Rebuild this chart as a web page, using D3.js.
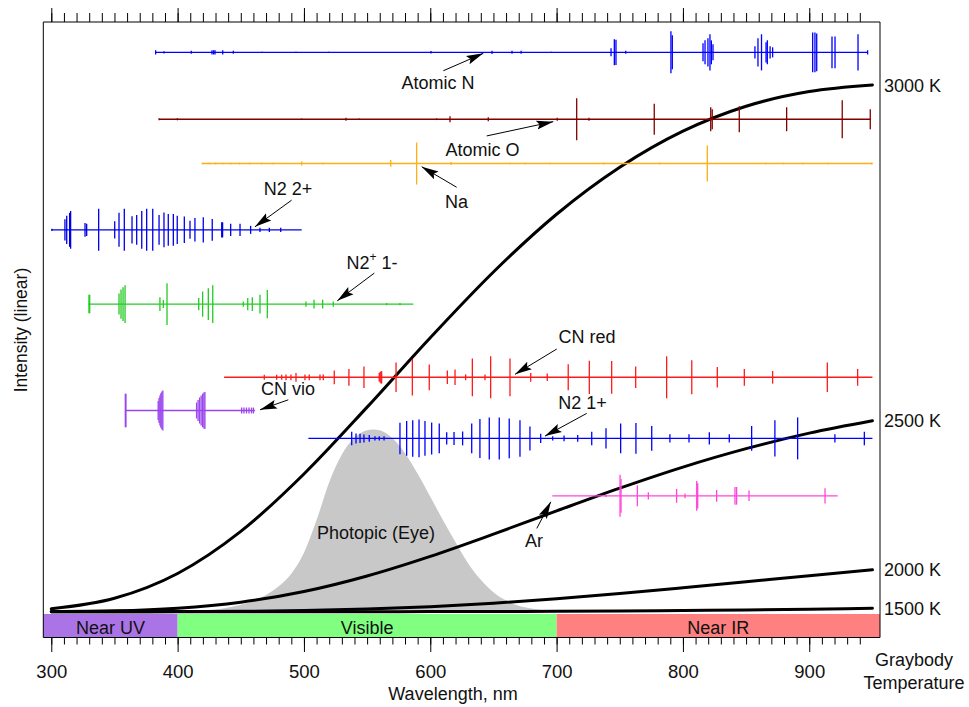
<!DOCTYPE html>
<html><head><meta charset="utf-8">
<script src="https://cdn.jsdelivr.net/npm/d3@7"></script>
<style>
html,body{margin:0;padding:0;background:#fff;}
svg{display:block;font-family:"Liberation Sans",Arial,sans-serif;}
</style></head><body>
<svg id="chart" width="969" height="707"></svg>
<script>
// ---------------- DATA ----------------
// Graybody curves (relative intensity, 3000 K at 950 nm = 100)
const gbWavelengths = [300,350,400,450,500,550,600,650,700,750,800,850,900,950];
const gb3000 = [0.56,2.55,7.26,15.25,26.15,38.84,52.02,64.5,75.46,84.38,91.23,95.97,98.75,100];
const gb2500 = [0.02,0.16,0.66,1.81,3.84,6.79,10.51,14.73,19.14,23.46,27.46,30.96,33.91,36.26];
const gb2000 = [0.0002,0.003,0.018,0.074,0.216,0.496,0.955,1.609,2.451,3.444,4.543,5.694,6.847,7.957];
const gb1500 = [0,0,0.00005,0.0004,0.0018,0.0063,0.0176,0.0402,0.0797,0.1408,0.2268,0.3389,0.4765,0.637];
const gbLabels = ["3000 K","2500 K","2000 K","1500 K"];

// Photopic (eye) response, same intensity units
const photopicWl = [380,390,400,410,420,430,440,450,460,470,480,490,500,510,520,530,540,550,555,560,570,580,590,600,610,620,630,640,650,660,670,680,690,700,710,720,730];
const photopicVal = [0.001,0.004,0.014,0.042,0.138,0.40,0.80,1.31,2.08,3.15,4.81,7.20,11.18,17.40,24.57,29.83,33.01,34.43,34.60,34.43,32.94,30.10,26.19,21.83,17.40,13.18,9.17,6.06,3.70,2.11,1.11,0.59,0.28,0.14,0.07,0.036,0.018];

// Spectral bands
const bandNames = ["Near UV","Visible","Near IR"];
const bandFrom = [293.67,400,700];
const bandTo = [400,700,956];

// Emission spectra: [wavelength nm, relative line intensity %]
const atomicN = [[382.6,10],[389.2,5],[410.8,7],[427.2,10],[428.5,10],[429.6,10],[435.7,10],[444.1,7],[466.8,3],[493.7,3],[519.8,3],[600.6,6],[648.9,8],[664.7,7],[671.9,7],[695.6,3],[743.1,19],[745.7,62],[747.0,60],[754.7,7],[790.5,100],[791.6,81],[815.9,43],[817.5,57],[819.8,67],[821.4,86],[822.5,57],[823.8,38],[857.0,29],[859.4,67],[862.2,86],[865.8,48],[866.8,57],[869.0,29],[871.0,24],[902.7,95],[904.5,95],[905.9,90],[918.0,76],[920.4,76],[938.6,86],[946.2,10]];
const atomicO = [[385.3,5],[399.8,5],[498.2,4],[533.3,7],[543.8,4],[605.0,4],[615.6,14],[645.9,10],[700.5,7],[715.9,100],[725.6,7],[777.3,74],[822.0,57],[823.2,48],[844.6,62],[882.1,57],[926.1,90],[948.3,48]];
const sodium = [[420,4],[425,4],[430,4],[436,4],[442,4],[449,4],[457,4],[466.5,4],[475.5,4],[498.2,10],[515.3,4],[568.7,16],[589.2,100],[616.4,7],[663.2,4],[675.1,4],[694.8,4],[737.2,4],[781.5,4],[819.3,86],[865.5,4],[879.4,4],[894.8,4],[915.0,4],[949.5,5]];
const n2Second = [[300.5,5],[310.8,51],[312.2,67],[314.5,81],[315.3,90],[326.7,33],[328.0,29],[337.5,100],[350.2,41],[353.6,81],[357.8,100],[363.9,65],[367.6,71],[371.6,90],[375.5,100],[380.3,100],[385.3,71],[389.2,83],[392.6,76],[396.6,76],[399.7,67],[405.3,63],[409.8,43],[413.7,56],[420.3,60],[427.4,52],[434.9,36],[435.6,36],[442.0,29],[449.4,29],[457.8,19],[465.2,10],[472.6,10],[481.6,10]];
const n2PlusFirstNeg = [[329.8,44],[330.4,44],[353.6,50],[355.2,70],[356.8,80],[358.4,90],[386.0,33],[388.7,19],[391.6,99],[416.7,29],[419.8,60],[424.3,76],[427.8,90],[452.0,12],[455.5,29],[459.1,33],[465.2,45],[471.0,67],[501.6,12],[508.0,21],[514.8,21],[523.2,12],[565.5,5],[576.0,5]];
const cnRed = [[468.6,12],[478.4,12],[482.4,12],[485.8,14],[489.7,14],[493.7,21],[500.8,14],[504.2,14],[512.7,14],[515.3,14],[524.0,33],[535.6,40],[547.5,51],[559.6,20],[560.3,25],[561.0,29],[561.5,29],[572.9,70],[585.8,87],[599.2,61],[613.5,32],[619.6,37],[628.0,14],[633.3,90],[643.3,14],[647.8,100],[663.1,90],[679.5,21],[692.6,18],[709.2,62],[725.9,79],[743.6,78],[762.6,51],[787.1,100],[807.0,81],[827.2,49],[848.6,40],[871.0,30],[914.3,70],[938.3,40]];
const cnViolet = [[358.6,80],[359.1,80],[384.6,45],[385.3,60],[386.0,72],[386.7,82],[387.5,90],[388.3,95],[415.0,38],[416.2,50],[417.4,62],[418.6,72],[419.8,80],[420.8,86],[421.6,88],[450.7,14],[452.5,14],[454.5,14],[456.5,14],[458.5,14],[460.0,14]];
const n2FirstPos = [[537.8,32],[541.2,24],[544.4,22],[547.5,19],[551.7,16],[556.2,10],[559.6,10],[563.4,10],[576.0,75],[581.3,83],[586.1,87],[591.1,90],[595.8,83],[601.1,76],[607.1,71],[613.0,29],[618.8,31],[625.6,33],[632.8,71],[639.3,93],[646.7,100],[654.6,100],[662.5,95],[671.0,87],[678.9,57],[687.4,22],[696.9,10],[705.9,14],[716.7,16],[727.8,32],[739.1,48],[750.7,71],[762.8,73],[775.3,59],[789.7,20],[804.8,20],[820.9,29],[836.7,20],[854.4,59],[872.8,86],[890.8,100],[920.3,20],[943.6,32]];
const argon = [[739.1,5],[750.2,100],[751.0,80],[763.9,50],[772.6,17],[795.0,33],[801.6,11],[810.9,71],[811.7,60],[826.7,28],[841.2,42],[842.5,42],[852.3,25],[912.5,36]];

const spectrumLines = [atomicN, atomicO, sodium, n2Second, n2PlusFirstNeg, cnRed, cnViolet, n2FirstPos, argon];
const spectrumOffsets = [106.2, 93.5, 85.1, 72.5, 58.4, 44.5, 38.2, 32.9, 22.0];
const spectrumStart = [382.6, 385.3, 419, 300, 329.3, 436.8, 359.1, 503.5, 696.6];
const spectrumEnd = [946.2, 948.3, 950, 498.2, 586.6, 950, 461.2, 950, 922.5];

// Axis ticks
const majorTicks = [300,400,500,600,700,800,900];
const minorTicks = d3.range(300, 941, 10);

// ---------------- STYLES / LAYOUT ----------------
const spectrumColors = ["#0000ff","#800000","#ffae14","#0000e6","#22cc22","#ff1a1a","#9a45ee","#0000ff","#ff44dd"];
const bandColors = ["#ab74e6","#80ff80","#ff8080"];
const FS = 18;

const svg = d3.select("#chart");
const plotL = 43.3, plotR = 880, plotT = 22, axisY = 637.5, bandTop = 614, bandBot = 637;

const x = d3.scaleLinear().domain([293.67, 956]).range([plotL, plotR]);
const y = d3.scaleLinear().domain([0, 100]).range([611.7, 85]);
const amp = d3.scaleLinear().domain([0, 100]).range([0, 21]);

// arrow marker
const defs = svg.append("defs");
defs.append("marker").attr("id","ah").attr("markerUnits","userSpaceOnUse")
  .attr("viewBox","0 -6 20 12").attr("markerWidth",20).attr("markerHeight",12)
  .attr("refX",17).attr("refY",0).attr("orient","auto")
  .append("path").attr("d","M0,-4.5L17,0L0,4.5L3,0Z").attr("fill","#000");

// bands
svg.append("g").selectAll("rect").data(bandNames).join("rect")
  .attr("x",(d,i)=>x(bandFrom[i])).attr("width",(d,i)=>x(bandTo[i])-x(bandFrom[i]))
  .attr("y",bandTop).attr("height",bandBot-bandTop)
  .attr("fill",(d,i)=>bandColors[i]);
svg.append("g").selectAll("text").data(bandNames).join("text")
  .attr("x",(d,i)=>(x(bandFrom[i])+x(bandTo[i]))/2).attr("y",633.5)
  .attr("text-anchor","middle").attr("font-size",FS).attr("fill","#111").text(d=>d);

// photopic area
const photo = photopicWl.map((w,i)=>[w, photopicVal[i]]);
svg.append("path").datum(photo)
  .attr("d", d3.area().x(d=>x(d[0])).y0(y(0)).y1(d=>y(d[1])).curve(d3.curveMonotoneX))
  .attr("fill","#c8c8c8");

// graybody curves
const gbSeries = [gb3000, gb2500, gb2000, gb1500];
const gbLine = d3.line().x(d=>x(d[0])).y(d=>y(d[1])).curve(d3.curveMonotoneX);
gbSeries.forEach((s,k)=>{
  const pts = gbWavelengths.map((w,i)=>[w, s[i]]);
  svg.append("path").datum(pts).attr("d",gbLine)
    .attr("fill","none").attr("stroke","#000").attr("stroke-width",3).attr("stroke-linecap","round");
  svg.append("text").attr("x",884).attr("y",y(s[s.length-1])+6.5)
    .attr("font-size",FS).attr("fill","#111").text(gbLabels[k]);
});

// spectra
spectrumLines.forEach((lines,i)=>{
  const g = svg.append("g").attr("stroke",spectrumColors[i]);
  const by = y(spectrumOffsets[i]);
  g.append("line").attr("x1",x(spectrumStart[i])).attr("x2",x(spectrumEnd[i]))
    .attr("y1",by).attr("y2",by).attr("stroke-width",1.4);
  g.selectAll("line.l").data(lines).join("line").attr("class","l")
    .attr("x1",d=>x(d[0])).attr("x2",d=>x(d[0]))
    .attr("y1",d=>by-amp(d[1])).attr("y2",d=>by+amp(d[1]))
    .attr("stroke-width",1.3);
});

// frame
svg.append("path").attr("d",`M${plotL},${axisY}V${plotT}H${plotR}V${axisY}H${plotL}`)
  .attr("fill","none").attr("stroke","#000").attr("stroke-width",1);

// axes
function styleAxis(g){ g.select(".domain").remove(); g.selectAll(".tick line").attr("stroke","#000"); }
svg.append("g").attr("transform",`translate(0,${axisY})`)
  .call(d3.axisBottom(x).tickValues(minorTicks).tickSize(7).tickFormat("")).call(styleAxis);
const bAx = svg.append("g").attr("transform",`translate(0,${axisY})`)
  .call(d3.axisBottom(x).tickValues(majorTicks).tickSize(14.5).tickPadding(13).tickFormat(d3.format("d"))).call(styleAxis);
bAx.selectAll("text").attr("font-size",18.5).attr("font-family","'Liberation Sans',Arial,sans-serif").attr("fill","#111");
svg.append("g").attr("transform",`translate(0,${plotT})`)
  .call(d3.axisTop(x).tickValues(minorTicks).tickSize(9).tickFormat("")).call(styleAxis);
svg.append("g").attr("transform",`translate(0,${plotT})`)
  .call(d3.axisTop(x).tickValues(majorTicks).tickSize(14).tickFormat("")).call(styleAxis);

// axis titles
svg.append("text").attr("x",453).attr("y",699.5).attr("text-anchor","middle")
  .attr("font-size",FS).attr("fill","#111").text("Wavelength, nm");
svg.append("text").attr("transform","translate(27,330) rotate(-90)").attr("text-anchor","middle")
  .attr("font-size",17.5).attr("fill","#111").text("Intensity (linear)");
svg.append("text").attr("x",914).attr("y",666).attr("text-anchor","middle")
  .attr("font-size",FS).attr("fill","#111").text("Graybody");
svg.append("text").attr("x",914).attr("y",689).attr("text-anchor","middle")
  .attr("font-size",FS).attr("fill","#111").text("Temperature");

// annotations: arrow tip on a spectrum (wavelength), tail offset, label position
const annotations = [
  {s:0, wl:642.0, dy:1.0,  tail:[-40,17.4],  lx:438, ly:89},
  {s:1, wl:697.4, dy:2.4,  tail:[-66.6,14.3],lx:482.5, ly:156},
  {s:2, wl:593.2, dy:3.2,  tail:[35,20.6],   lx:456.5, ly:208},
  {s:3, wl:461.2, dy:-3,   tail:[36.7,-26.7],lx:288, ly:195},
  {s:4, wl:526.4, dy:-3.3, tail:[37,-27.7],  lx:372, ly:269},
  {s:5, wl:667.1, dy:-3,   tail:[41.7,-25.3],lx:587, ly:343},
  {s:6, wl:465.2, dy:-0.7, tail:[28.3,-10],  lx:288, ly:395},
  {s:7, wl:690.8, dy:-2.3, tail:[41.7,-22.7],lx:582.5, ly:409},
  {s:8, wl:695.4, dy:6,    tail:[-14,26.6],  lx:534, ly:547}
];
const annLabels = ["Atomic N","Atomic O","Na","N2 2+",null,"CN red","CN vio","N2 1+","Ar"];
annotations.forEach((a,i)=>{
  const tx = x(a.wl), ty = y(spectrumOffsets[a.s]) + a.dy;
  svg.append("line").attr("x1",tx+a.tail[0]).attr("y1",ty+a.tail[1]).attr("x2",tx).attr("y2",ty)
    .attr("stroke","#000").attr("stroke-width",1).attr("marker-end","url(#ah)");
  const t = svg.append("text").attr("x",a.lx).attr("y",a.ly).attr("text-anchor","middle")
    .attr("font-size",FS).attr("fill","#111");
  if (annLabels[i]) t.text(annLabels[i]);
  else {
    t.append("tspan").text("N2");
    t.append("tspan").attr("font-size",12).attr("dy",-8).text("+");
    t.append("tspan").attr("dy",8).text(" 1-");
  }
});
svg.append("text").attr("x",376).attr("y",538.5).attr("text-anchor","middle")
  .attr("font-size",FS).attr("fill","#111").text("Photopic (Eye)");
</script>
</body></html>
